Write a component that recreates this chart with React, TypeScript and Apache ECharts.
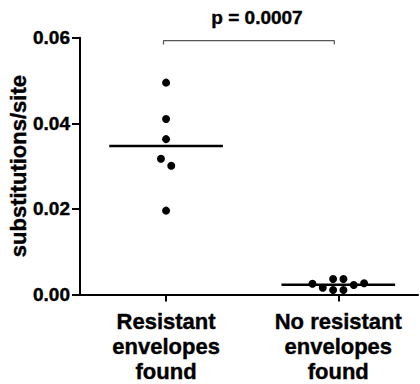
import React, { useEffect, useRef } from "react";
import * as echarts from "echarts";

const categories = ["Resistant\nenvelopes\nfound", "No resistant\nenvelopes\nfound"];
const categoryPositions = [0.5, 1.5];

const resistantX = [0.5, 0.5, 0.5, 0.47, 0.53, 0.5];
const resistantY = [0.0495, 0.041, 0.0363, 0.0317, 0.0301, 0.0196];

const noResistantX = [1.35, 1.41, 1.47, 1.53, 1.47, 1.53, 1.59, 1.65];
const noResistantY = [0.00252, 0.00159, 0.00362, 0.00362, 0.00105, 0.00105, 0.00222, 0.00262];

const yTicks = [0, 0.02, 0.04, 0.06];
const pLabel = "p = 0.0007";
const bracketX = [0.485, 1.477];
const bracketY = [0.0584, 0.0593];
const meanHalfWidth = 0.33;

const FONT = "'Liberation Sans', Arial, sans-serif";

const mean = (a: number[]) => a.reduce((s, v) => s + v, 0) / a.length;

export default function App() {
  const ref = useRef<HTMLDivElement>(null);
  useEffect(() => {
    if (!ref.current) return;
    const chart = echarts.init(ref.current, null, { renderer: "svg" });
    const m1 = mean(resistantY);
    const m2 = mean(noResistantY);
    const textShadow = { textBorderColor: "#000", textBorderWidth: 0.4 };
    chart.setOption({
      animation: false,
      backgroundColor: "#fff",
      grid: {
        left: 80,
        right: 2,
        top: 37.7,
        bottom: 89.5,
        containLabel: false,
        outerBoundsMode: "none",
      },
      xAxis: {
        type: "value",
        min: 0,
        max: 1.963,
        splitLine: { show: false },
        axisLine: { show: true, onZero: false, lineStyle: { color: "#000", width: 2 } },
        axisTick: {
          show: true,
          customValues: categoryPositions,
          length: 7,
          lineStyle: { color: "#000", width: 2 },
        },
        axisLabel: {
          show: true,
          customValues: categoryPositions,
          formatter: (v: number) => {
            const i = categoryPositions.findIndex((p) => Math.abs(p - v) < 1e-6);
            return i >= 0 ? categories[i] : "";
          },
          margin: 14,
          fontFamily: FONT,
          fontWeight: "bold",
          fontSize: 22,
          lineHeight: 25,
          color: "#000",
          align: "center",
          ...textShadow,
        },
      },
      yAxis: {
        type: "value",
        min: 0,
        max: 0.06,
        interval: 0.02,
        name: "substitutions/site",
        nameLocation: "middle",
        nameGap: 51,
        nameMoveOverlap: false,
        nameTextStyle: { fontFamily: FONT, fontWeight: "bold", fontSize: 22, color: "#000", ...textShadow },
        splitLine: { show: false },
        axisLine: { show: true, lineStyle: { color: "#000", width: 2 } },
        axisTick: { show: true, length: 8, lineStyle: { color: "#000", width: 2 } },
        axisLabel: {
          margin: 10,
          fontFamily: FONT,
          fontWeight: "bold",
          fontSize: 19,
          color: "#000",
          formatter: (v: number) => v.toFixed(2),
          customValues: yTicks,
          ...textShadow,
        },
      },
      graphic: [
        {
          type: "text",
          x: 257,
          y: 17.5,
          style: {
            text: pLabel,
            fontFamily: FONT,
            fontWeight: "bold",
            fontSize: 19,
            fill: "#000",
            stroke: "#000",
            lineWidth: 0.4,
            align: "center",
            verticalAlign: "middle",
          },
        },
      ],
      series: [
        {
          type: "line",
          data: [
            [bracketX[0], bracketY[0]],
            [bracketX[0], bracketY[1]],
            [bracketX[1], bracketY[1]],
            [bracketX[1], bracketY[0]],
          ],
          symbol: "none",
          lineStyle: { color: "#555", width: 1.2 },
          silent: true,
        },
        {
          type: "line",
          data: [
            [categoryPositions[0] - meanHalfWidth, m1],
            [categoryPositions[0] + meanHalfWidth, m1],
          ],
          symbol: "none",
          lineStyle: { color: "#000", width: 2.4 },
        },
        {
          type: "line",
          data: [
            [categoryPositions[1] - meanHalfWidth, m2],
            [categoryPositions[1] + meanHalfWidth, m2],
          ],
          symbol: "none",
          lineStyle: { color: "#000", width: 2.4 },
        },
        {
          type: "scatter",
          data: resistantX.map((x, i) => [x, resistantY[i]]),
          symbol: "circle",
          symbolSize: 8,
          itemStyle: { color: "#000", opacity: 1 },
        },
        {
          type: "scatter",
          data: noResistantX.map((x, i) => [x, noResistantY[i]]),
          symbol: "circle",
          symbolSize: 8,
          itemStyle: { color: "#000", opacity: 1 },
        },
      ],
    });
    return () => chart.dispose();
  }, []);
  return <div ref={ref} style={{ width: 420, height: 384, position: "absolute", left: 0, top: 0 }} />;
}
